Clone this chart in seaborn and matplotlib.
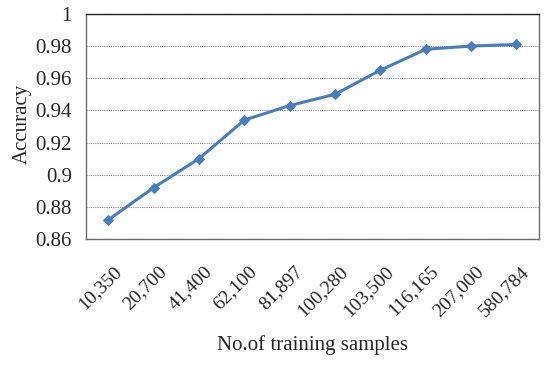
import matplotlib
matplotlib.use("Agg")
import matplotlib.pyplot as plt
import matplotlib.transforms as mtransforms
import numpy as np
import pandas as pd
import seaborn as sns

# Training set sizes (categories) and accuracy
samples = ["10,350", "20,700", "41,400", "62,100", "81,897",
           "100,280", "103,500", "116,165", "207,000", "580,784"]
accuracy = [0.872, 0.892, 0.910, 0.934, 0.943,
            0.950, 0.965, 0.978, 0.980, 0.981]
y_ticks = [0.86, 0.88, 0.9, 0.92, 0.94, 0.96, 0.98, 1]
y_tick_labels = ["0.86", "0.88", "0.9", "0.92", "0.94", "0.96", "0.98", "1"]

df = pd.DataFrame({"x": np.arange(len(samples)), "acc": accuracy})

sns.set_style("white")
plt.rcParams["font.family"] = ["Liberation Serif", "DejaVu Serif"]

fig, ax = plt.subplots(figsize=(5.5, 3.66), dpi=100)
fig.subplots_adjust(left=0.156, right=0.98, top=0.962, bottom=0.347)

sns.lineplot(data=df, x="x", y="acc", ax=ax, color="#4A7EBB",
             linewidth=2.2, marker="D", markersize=5.5,
             markeredgecolor="#4A7EBB")

ax.set_xlim(-0.5, len(samples) - 0.5)
ax.set_ylim(0.86, 1.0)
ax.set_yticks(y_ticks)
ax.set_yticklabels(y_tick_labels, fontsize=15)
ax.set_xticks(np.arange(len(samples)))
ax.set_xticklabels(samples, rotation=45, ha="right", va="top",
                   rotation_mode="anchor", fontsize=14)
ax.tick_params(axis="y", length=0, pad=10)
ax.tick_params(axis="x", length=0, pad=17)

# shift rotated labels a little to the right, like the original
offset = mtransforms.ScaledTranslation(4 / 100, 0, fig.dpi_scale_trans)
for lbl in ax.get_xticklabels():
    lbl.set_transform(lbl.get_transform() + offset)

ax.yaxis.grid(True, linestyle=(0, (1, 1)), color="#8c8c8c", linewidth=0.8)
ax.xaxis.grid(False)
for side in ["left", "right", "top", "bottom"]:
    ax.spines[side].set_visible(True)
    ax.spines[side].set_color("#6e6e6e")
    ax.spines[side].set_linewidth(1.0)
ax.spines["top"].set_color("#222222")

ax.set_xlabel("No.of training samples", fontsize=15)
ax.set_ylabel("Accuracy", fontsize=15)
ax.xaxis.set_label_coords(0.5, -0.425)
ax.yaxis.set_label_coords(-0.12, 0.51)

fig.savefig("out.png", dpi=100)
